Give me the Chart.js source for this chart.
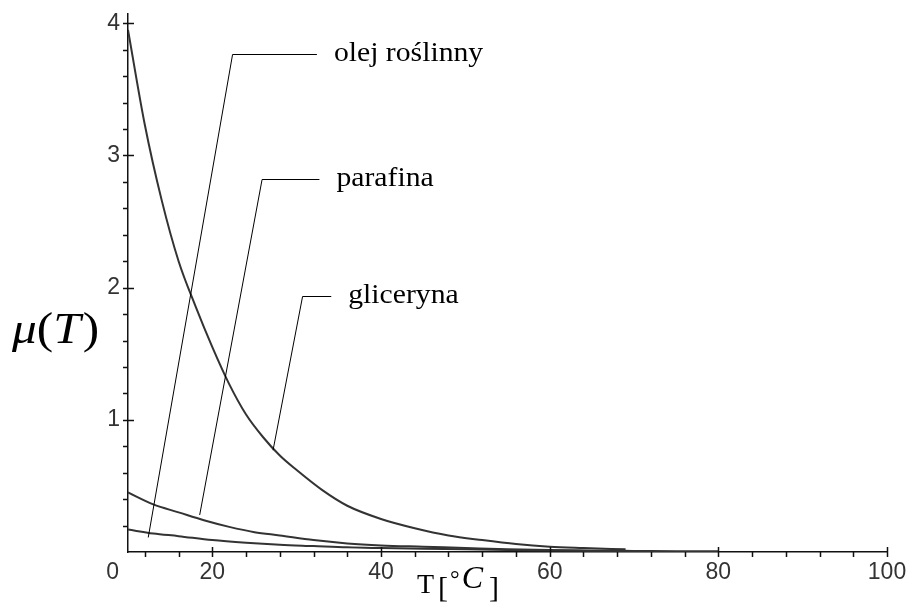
<!DOCTYPE html>
<html lang="pl">
<head>
    <meta charset="UTF-8">
    <title>Lepkość</title>
    <script src="https://cdn.jsdelivr.net/npm/chart.js"></script>
    <style>
        body { margin: 0; background: #fff; }
        #wrap { width: 908px; height: 604px; }
    </style>
</head>
<body>
    <div id="wrap"><canvas id="muChart" width="908" height="604"></canvas></div>

    <script>
        // values: T in deg C, mu in Pa*s
        const glycerinT  = [10, 12, 14, 16, 18, 20, 22, 24, 26, 28, 30, 33, 36, 40, 44, 48, 52, 56, 60, 64, 69];
        const glycerinMu = [3.95, 3.23, 2.66, 2.2, 1.86, 1.55, 1.27, 1.04, 0.87, 0.73, 0.62, 0.47, 0.35, 0.25, 0.18, 0.125, 0.09, 0.06, 0.04, 0.03, 0.02];
        const paraffinT  = [10, 13, 16, 19, 22, 25, 28, 32, 36, 40, 45, 50, 55, 60, 65, 70];
        const paraffinMu = [0.45, 0.36, 0.3, 0.24, 0.19, 0.15, 0.125, 0.09, 0.065, 0.05, 0.04, 0.03, 0.02, 0.015, 0.01, 0.008];
        const oilT  = [10, 13, 16, 20, 24, 28, 32, 36, 40, 45, 50, 55, 60, 65, 70, 75, 80];
        const oilMu = [0.17, 0.14, 0.12, 0.09, 0.07, 0.055, 0.045, 0.035, 0.03, 0.025, 0.02, 0.015, 0.012, 0.01, 0.008, 0.006, 0.005];

        const xTicks  = [12, 16, 20, 24, 28, 32, 36, 40, 44, 48, 52, 56, 60, 64, 68, 72, 76, 80, 84, 88, 92, 96, 100];
        const xLabels = [20, 40, 60, 80, 100];
        const yTicks  = [0.2, 0.4, 0.6, 0.8, 1, 1.2, 1.4, 1.6, 1.8, 2, 2.2, 2.4, 2.6, 2.8, 3, 3.2, 3.4, 3.6, 3.8, 4];
        const yLabels = [1, 2, 3, 4];

        // label, elbow (T, mu), end of horizontal stroke T, leader tip (T, mu)
        const notes = [
            { text: 'olej roślinny', elbow: [22.4, 3.77], endT: 32.4, tip: [12.4, 0.11] },
            { text: 'parafina',      elbow: [25.9, 2.82], endT: 32.7, tip: [18.5, 0.28] },
            { text: 'gliceryna',     elbow: [30.7, 1.94], endT: 34.1, tip: [27.2, 0.77] }
        ];

        const toPoints = (xs, ys) => xs.map((x, i) => ({ x: x, y: ys[i] }));
        const curve = (label, xs, ys) => ({
            label: label,
            data: toPoints(xs, ys),
            borderColor: '#333',
            borderWidth: 2,
            pointRadius: 0,
            cubicInterpolationMode: 'monotone',
            fill: false
        });

        const tickFont = { family: 'Liberation Sans', size: 23 };

        // tick marks, annotations and axis titles
        const extras = {
            id: 'extras',
            afterDraw(chart) {
                const c = chart.ctx;
                const xs = chart.scales.x, ys = chart.scales.y;
                const x0 = xs.left, y0 = ys.bottom;
                c.save();
                c.strokeStyle = '#111';
                c.lineWidth = 1.5;
                c.beginPath();
                yTicks.forEach(v => {
                    const py = Math.round(ys.getPixelForValue(v)) + 0.5;
                    c.moveTo(x0 - 5, py);
                    c.lineTo(yLabels.includes(v) ? x0 + 6 : x0, py);
                });
                xTicks.forEach(v => {
                    const px = Math.round(xs.getPixelForValue(v)) + 0.5;
                    c.moveTo(px, xLabels.includes(v) ? y0 - 5 : y0);
                    c.lineTo(px, y0 + 5);
                });
                c.stroke();

                // origin label
                c.fillStyle = '#333';
                c.font = '23px "Liberation Sans"';
                c.textAlign = 'right';
                c.textBaseline = 'middle';
                c.fillText('0', x0 - 9, y0 + 21);

                // leader lines and names
                c.strokeStyle = '#000';
                c.lineWidth = 1;
                c.fillStyle = '#000';
                c.textAlign = 'left';
                c.textBaseline = 'alphabetic';
                notes.forEach(n => {
                    const ex = xs.getPixelForValue(n.elbow[0]);
                    const ey = Math.round(ys.getPixelForValue(n.elbow[1])) + 0.5;
                    const hx = xs.getPixelForValue(n.endT);
                    c.beginPath();
                    c.moveTo(xs.getPixelForValue(n.tip[0]), ys.getPixelForValue(n.tip[1]));
                    c.lineTo(ex, ey);
                    c.lineTo(hx, ey);
                    c.stroke();
                    c.save();
                    c.translate(hx + 17, ey + 6);
                    c.scale(1.1, 1);
                    c.font = '27px "Liberation Serif"';
                    c.fillText(n.text, 0, 0);
                    c.restore();
                });

                // y title: mu(T)
                c.save();
                c.translate(12, 343);
                c.scale(1.12, 1);
                let cx = 0;
                const part = (s, font, dy) => {
                    c.font = font;
                    c.fillText(s, cx, dy || 0);
                    cx += c.measureText(s).width;
                };
                part('\u03BC', 'italic 44px "Liberation Serif"');
                part('(', '44px "Liberation Serif"');
                part('T', 'italic 44px "Liberation Serif"');
                cx += 2;
                part(')', '44px "Liberation Serif"');
                c.restore();

                // x title: T [°C]
                c.save();
                c.translate(417, 593);
                cx = 0;
                part('T', '28px "Liberation Serif"');
                cx += 4;
                part('[', '30px "Liberation Serif"', 4);
                cx += 2;
                part('\u00B0', '24px "Liberation Serif"', -6);
                cx += 2;
                part('C', 'italic 32px "Liberation Serif"', -5);
                cx += 6;
                part(']', '30px "Liberation Serif"', 4);
                c.restore();
                c.restore();
            }
        };

        const ctx = document.getElementById('muChart').getContext('2d');
        const muChart = new Chart(ctx, {
            type: 'line',
            data: {
                datasets: [
                    curve('gliceryna', glycerinT, glycerinMu),
                    curve('parafina', paraffinT, paraffinMu),
                    curve('olej roślinny', oilT, oilMu)
                ]
            },
            options: {
                responsive: false,
                animation: false,
                devicePixelRatio: 1,
                layout: { padding: { top: 14, right: 21, left: 0, bottom: 0 } },
                plugins: { legend: { display: false }, tooltip: { enabled: false } },
                scales: {
                    x: {
                        type: 'linear',
                        min: 10,
                        max: 100,
                        grid: { display: false, drawTicks: false },
                        border: { display: true, color: '#111', width: 1.5 },
                        afterBuildTicks: s => { s.ticks = xLabels.map(v => ({ value: v })); },
                        ticks: {
                            autoSkip: false,
                            maxRotation: 0,
                            padding: 7,
                            color: '#333',
                            font: tickFont
                        },
                        afterFit: s => { s.height = 52; s.paddingLeft = 0; s.paddingRight = 0; }
                    },
                    y: {
                        type: 'linear',
                        min: 0,
                        max: 4.07,
                        grid: { display: false, drawTicks: false },
                        border: { display: true, color: '#111', width: 1.5 },
                        afterBuildTicks: s => { s.ticks = yLabels.map(v => ({ value: v })); },
                        ticks: {
                            autoSkip: false,
                            padding: 8,
                            color: '#333',
                            font: tickFont
                        },
                        afterFit: s => { s.width = 128; s.paddingTop = 0; s.paddingBottom = 0; }
                    }
                }
            },
            plugins: [extras]
        });
    </script>
</body>
</html>
